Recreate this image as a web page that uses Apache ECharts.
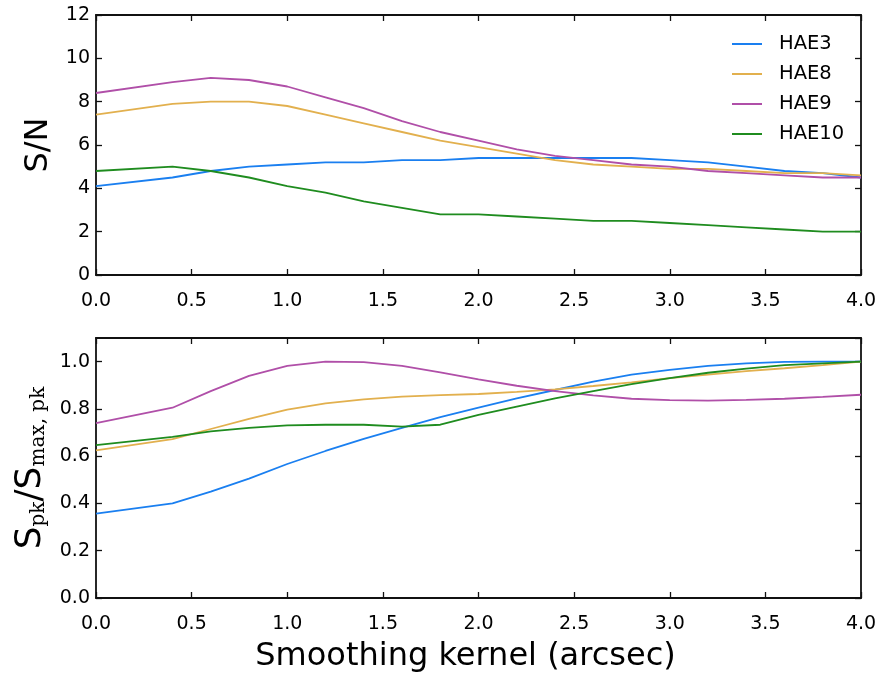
<!DOCTYPE html>
<html>
<head>
<meta charset="utf-8">
<script src="https://cdn.jsdelivr.net/npm/echarts@6/dist/echarts.min.js"></script>
<style>html,body{margin:0;padding:0;background:#fff}#c{width:881px;height:675px}</style>
</head>
<body>
<div id="c"></div>
<script>
const xs = [0, 0.4, 0.6, 0.8, 1.0, 1.2, 1.4, 1.6, 1.8, 2.0, 2.2, 2.4, 2.6, 2.8, 3.0, 3.2, 3.4, 3.6, 3.8, 4.0];
const names = ['HAE3', 'HAE8', 'HAE9', 'HAE10'];
const colors = ['#1a7ff0', '#e2b04e', '#b04fa8', '#1f8c1f'];
// S/N (top panel)
const snHAE3  = [4.1, 4.5, 4.8, 5.0, 5.1, 5.2, 5.2, 5.3, 5.3, 5.4, 5.4, 5.4, 5.4, 5.4, 5.3, 5.2, 5.0, 4.8, 4.7, 4.5];
const snHAE8  = [7.4, 7.9, 8.0, 8.0, 7.8, 7.4, 7.0, 6.6, 6.2, 5.9, 5.6, 5.3, 5.1, 5.0, 4.9, 4.9, 4.8, 4.7, 4.7, 4.6];
const snHAE9  = [8.4, 8.9, 9.1, 9.0, 8.7, 8.2, 7.7, 7.1, 6.6, 6.2, 5.8, 5.5, 5.3, 5.1, 5.0, 4.8, 4.7, 4.6, 4.5, 4.5];
const snHAE10 = [4.8, 5.0, 4.8, 4.5, 4.1, 3.8, 3.4, 3.1, 2.8, 2.8, 2.7, 2.6, 2.5, 2.5, 2.4, 2.3, 2.2, 2.1, 2.0, 2.0];
// S_pk / S_max,pk (bottom panel)
const pkHAE3  = [0.357, 0.400, 0.450, 0.505, 0.567, 0.622, 0.673, 0.720, 0.765, 0.805, 0.845, 0.880, 0.915, 0.945, 0.965, 0.982, 0.993, 0.999, 1.000, 1.000];
const pkHAE8  = [0.625, 0.672, 0.715, 0.758, 0.797, 0.823, 0.840, 0.852, 0.858, 0.863, 0.872, 0.883, 0.897, 0.912, 0.930, 0.945, 0.960, 0.972, 0.985, 1.000];
const pkHAE9  = [0.740, 0.805, 0.875, 0.940, 0.982, 1.000, 0.998, 0.982, 0.955, 0.925, 0.898, 0.875, 0.857, 0.843, 0.837, 0.835, 0.838, 0.843, 0.851, 0.860];
const pkHAE10 = [0.647, 0.682, 0.705, 0.720, 0.730, 0.733, 0.733, 0.725, 0.733, 0.775, 0.810, 0.845, 0.875, 0.905, 0.930, 0.953, 0.970, 0.985, 0.993, 1.000];

const topSeries = [snHAE3, snHAE8, snHAE9, snHAE10];
const botSeries = [pkHAE3, pkHAE8, pkHAE9, pkHAE10];

const FONT = 'DejaVu Sans';
const axisLine = { show: true, onZero: false, lineStyle: { color: '#111', width: 1.8 } };
const tickIn = { show: true, inside: true, length: 6, lineStyle: { color: '#111', width: 1.3 } };

function xAxisPair(gi, showName) {
  return [
    {
      type: 'value', gridIndex: gi, min: 0, max: 4, interval: 0.5, position: 'bottom',
      axisLine, axisTick: tickIn, splitLine: { show: false },
      axisLabel: { margin: 17, fontFamily: FONT, fontSize: 19, color: '#000', formatter: v => v.toFixed(1) },
      name: showName ? 'Smoothing kernel (arcsec)' : '', nameLocation: 'middle', nameGap: 43,
      nameTextStyle: { fontFamily: FONT, fontSize: 32, color: '#000', padding: [0, 26, 0, 0] }
    },
    {
      type: 'value', gridIndex: gi, min: 0, max: 4, interval: 0.5, position: 'top',
      axisLine, axisTick: tickIn, axisLabel: { show: false }, splitLine: { show: false }
    }
  ];
}

const option = {
  animation: false,
  backgroundColor: '#fff',
  color: colors,
  grid: [
    { left: 96, top: 15, width: 765, height: 260 },
    { left: 96, top: 338, width: 765, height: 260 }
  ],
  legend: {
    data: names.map(n => ({ name: n, icon: 'rect' })), orient: 'vertical', left: 727, top: 29,
    itemWidth: 30, itemHeight: 2, itemGap: 10,
    textStyle: { fontFamily: FONT, fontSize: 19.5, color: '#000', lineHeight: 20, padding: [0, 0, 0, 12] }
  },
  xAxis: [...xAxisPair(0, false), ...xAxisPair(1, true)],
  yAxis: [
    {
      type: 'value', gridIndex: 0, min: 0, max: 12, interval: 2, position: 'left',
      axisLine, axisTick: tickIn, splitLine: { show: false },
      axisLabel: { margin: 6, fontFamily: FONT, fontSize: 19, color: '#000' },
      name: 'S/N', nameLocation: 'middle', nameGap: 36,
      nameTextStyle: { fontFamily: FONT, fontSize: 32, color: '#000' }
    },
    {
      type: 'value', gridIndex: 0, min: 0, max: 12, interval: 2, position: 'right',
      axisLine, axisTick: tickIn, axisLabel: { show: false }, splitLine: { show: false }
    },
    {
      type: 'value', gridIndex: 1, min: 0, max: 1.1, interval: 0.2, position: 'left',
      axisLine, axisTick: tickIn, splitLine: { show: false },
      axisLabel: { margin: 6, fontFamily: FONT, fontSize: 19, color: '#000', showMaxLabel: false,
        formatter: v => (v > 1.05 ? '' : v.toFixed(1)) },
      name: '{S|S}{sub|pk}{S|/S}{sub|max, pk}', nameLocation: 'middle', nameGap: 47,
      nameTextStyle: {
        color: '#000',
        rich: {
          S: { fontFamily: FONT, fontSize: 36, lineHeight: 40, color: '#000', verticalAlign: 'bottom' },
          sub: { fontFamily: 'DejaVu Serif', fontSize: 20, lineHeight: 40, color: '#000', verticalAlign: 'bottom', padding: [14, 0, 0, 0] }
        }
      }
    },
    {
      type: 'value', gridIndex: 1, min: 0, max: 1.1, interval: 0.2, position: 'right',
      axisLine, axisTick: tickIn, axisLabel: { show: false }, splitLine: { show: false }
    }
  ],
  series: [
    ...names.map((n, i) => ({
      name: n, type: 'line', xAxisIndex: 0, yAxisIndex: 0, symbol: 'none',
      lineStyle: { width: 1.8, color: colors[i] }, itemStyle: { color: colors[i] },
      data: xs.map((x, k) => [x, topSeries[i][k]])
    })),
    ...names.map((n, i) => ({
      name: n, type: 'line', xAxisIndex: 2, yAxisIndex: 2, symbol: 'none',
      lineStyle: { width: 1.8, color: colors[i] }, itemStyle: { color: colors[i] },
      data: xs.map((x, k) => [x, botSeries[i][k]])
    }))
  ]
};
echarts.init(document.getElementById('c')).setOption(option);
</script>
</body>
</html>
